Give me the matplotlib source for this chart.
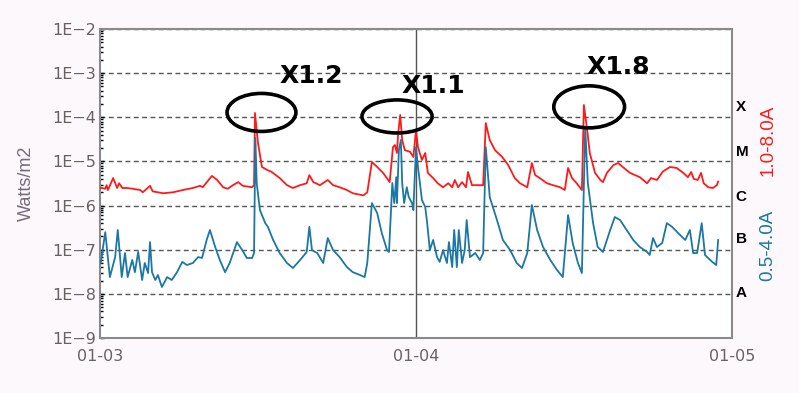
import matplotlib
matplotlib.use("Agg")
import matplotlib.pyplot as plt
import matplotlib.dates as mdates
import matplotlib.ticker as mticker
import matplotlib.transforms as mtransforms
from matplotlib.patches import Ellipse
import numpy as np
import pandas as pd

# GOES X-ray flux, hours after 01-03 00:00 and W/m2
long_hours = [0.0, 0.15, 0.4, 0.5, 0.6, 1.0, 1.3, 1.45, 1.7, 2.05, 2.5, 3.05, 3.25,
              3.8, 4.0, 4.8, 5.55, 6.3, 7.05, 7.6, 7.8, 8.5, 8.9, 9.35, 9.7, 10.1,
              10.5, 10.85, 11.55, 11.7, 11.77, 12.0, 12.3, 12.7, 13.05, 13.65, 14.2,
              14.65, 15.2, 15.7, 15.9, 16.2, 16.7, 17.3, 17.7, 18.2, 18.75, 19.2,
              20.0, 20.3, 20.65, 21.05, 21.5, 22.0, 22.25, 22.4, 22.55, 22.65, 22.8,
              22.95, 23.15, 23.55, 23.8, 24.0, 24.15, 24.45, 24.7, 24.9, 25.3, 25.65,
              26.05, 26.45, 26.75, 26.95, 27.2, 27.5, 27.8, 27.95, 28.25, 28.65,
              29.1, 29.3, 29.6, 30.0, 30.55, 31.0, 31.5, 31.9, 32.45, 32.8, 33.05,
              33.4, 33.95, 34.4, 34.95, 35.3, 35.55, 35.85, 36.2, 36.6, 36.75, 37.0,
              37.2, 37.6, 38.0, 38.2, 38.5, 39.0, 39.35, 39.7, 40.25, 41.0, 41.55,
              41.85, 42.3, 42.75, 43.3, 43.8, 44.3, 44.65, 44.9, 45.1, 45.4, 45.65,
              45.85, 46.2, 46.55, 46.85, 46.95]
long_flux = [2.5e-6, 2.5e-6, 2.4e-6, 2.9e-6, 2.25e-6, 4.2e-6, 2.5e-6, 3.2e-6, 2.5e-6,
             2.5e-6, 2.4e-6, 2.25e-6, 2.0e-6, 2.8e-6, 2.1e-6, 1.9e-6, 2.0e-6, 2.25e-6,
             2.5e-6, 2.8e-6, 2.6e-6, 4.7e-6, 3.8e-6, 2.6e-6, 2.4e-6, 2.9e-6, 3.4e-6,
             2.8e-6, 2.6e-6, 2.9e-6, 1.25e-4, 2.6e-5, 7.5e-6, 6.4e-6, 5.75e-6, 4.2e-6,
             2.9e-6, 2.5e-6, 2.9e-6, 3.2e-6, 4.9e-6, 3.4e-6, 2.9e-6, 3.8e-6, 2.9e-6,
             2.6e-6, 2.25e-6, 1.9e-6, 1.7e-6, 2.0e-6, 9.7e-6, 7.5e-6, 5.5e-6, 3.4e-6,
             2.1e-5, 2.35e-5, 1.55e-5, 4.4e-5, 1.13e-4, 3.06e-5, 1.8e-5, 1.65e-5,
             1.26e-5, 5.15e-5, 2.1e-5, 1.08e-5, 1.55e-5, 5.5e-6, 4.2e-6, 3.2e-6,
             2.6e-6, 3.2e-6, 2.6e-6, 3.8e-6, 2.6e-6, 3.4e-6, 2.6e-6, 5.75e-6, 2.9e-6,
             2.9e-6, 2.9e-6, 7.4e-5, 3.06e-5, 1.8e-5, 1.26e-5, 8.3e-6, 4.2e-6, 3.2e-6,
             2.6e-6, 9.2e-6, 4.9e-6, 4.2e-6, 3.2e-6, 2.9e-6, 2.6e-6, 2.25e-6, 7.1e-6,
             4.2e-6, 3.2e-6, 2.25e-6, 1.9e-4, 5.15e-5, 1.55e-5, 5.5e-6, 3.8e-6, 3.4e-6,
             5.5e-6, 8.3e-6, 9.2e-6, 7.5e-6, 5.5e-6, 4.4e-6, 3.2e-6, 4.2e-6, 3.8e-6,
             5.9e-6, 7.5e-6, 7.1e-6, 5.5e-6, 4.4e-6, 5.75e-6, 4.0e-6, 3.8e-6, 5.5e-6,
             3.2e-6, 2.6e-6, 2.5e-6, 2.9e-6, 3.5e-6]

short_hours = [0.05, 0.4, 0.75, 1.15, 1.35, 1.65, 1.9, 2.1, 2.45, 2.65, 2.9, 3.2, 3.4,
               3.65, 3.8, 3.95, 4.2, 4.4, 4.7, 5.1, 5.45, 5.85, 6.25, 6.6, 7.05, 7.45,
               7.75, 8.1, 8.35, 8.75, 9.1, 9.5, 9.85, 10.4, 10.8, 11.15, 11.55, 11.7,
               11.8, 11.9, 12.15, 12.55, 12.75, 13.15, 13.65, 14.2, 14.65, 15.2, 15.7,
               15.9, 16.1, 16.5, 16.95, 17.3, 17.7, 18.2, 18.75, 19.2, 19.75, 20.1,
               20.3, 20.65, 21.05, 21.4, 21.8, 21.95, 22.2, 22.35, 22.5, 22.55, 22.7,
               22.85, 22.95, 23.1, 23.3, 23.45, 23.7, 23.8, 24.0, 24.15, 24.45, 24.7,
               24.85, 25.05, 25.3, 25.6, 25.8, 26.05, 26.35, 26.5, 26.75, 26.9, 27.1,
               27.25, 27.5, 27.7, 27.85, 28.1, 28.5, 28.85, 29.1, 29.3, 29.6, 30.15,
               30.6, 31.15, 31.65, 32.05, 32.45, 32.8, 33.2, 33.65, 34.2, 34.7, 35.15,
               35.55, 35.9, 36.3, 36.6, 36.85, 37.05, 37.45, 37.8, 38.2, 38.75, 39.1,
               39.5, 40.0, 40.5, 41.0, 41.55, 41.75, 42.0, 42.3, 42.7, 43.05, 43.45,
               43.9, 44.45, 44.8, 45.05, 45.35, 45.7, 45.95, 46.5, 46.8, 46.95]
short_flux = [5.0e-8, 2.5e-7, 2.4e-8, 6.8e-8, 2.8e-7, 2.4e-8, 8.4e-8, 2.4e-8, 5.85e-8,
              3.1e-8, 8.9e-8, 2.06e-8, 5.0e-8, 2.96e-8, 1.49e-7, 3.1e-8, 2.06e-8,
              2.67e-8, 1.43e-8, 2.4e-8, 2.06e-8, 3.1e-8, 5.3e-8, 4.5e-8, 5.0e-8, 6.8e-8,
              6.5e-8, 1.66e-7, 2.8e-7, 1.15e-7, 5.85e-8, 3.1e-8, 5.0e-8, 1.49e-7, 9.8e-8,
              6.5e-8, 6.5e-8, 8.4e-8, 3.4e-5, 3.24e-6, 7.9e-7, 4.0e-7, 3.3e-7, 1.66e-7,
              8.4e-8, 5.0e-8, 3.85e-8, 5.85e-8, 8.9e-8, 3.3e-7, 9.8e-8, 8.4e-8, 5.0e-8,
              1.84e-7, 9.8e-8, 6.8e-8, 4.05e-8, 3.1e-8, 2.67e-8, 2.4e-8, 5.0e-8, 1.14e-6,
              6.8e-7, 2.4e-7, 9.8e-8, 8.9e-8, 3.24e-6, 1.14e-6, 4.4e-6, 1.14e-6, 1.8e-5,
              3.06e-5, 3.24e-6, 1.14e-6, 2.6e-6, 1.56e-6, 1.14e-6, 7.9e-7, 2.1e-5,
              7.5e-6, 1.34e-6, 9.3e-7, 4.0e-7, 9.8e-8, 1.66e-7, 6.8e-8, 5.3e-8, 9.8e-8,
              5.0e-8, 1.49e-7, 4.05e-8, 2.8e-7, 4.05e-8, 2.8e-7, 5.0e-8, 9.8e-8, 4.7e-7,
              6.8e-8, 8.4e-8, 5.85e-8, 8.4e-8, 2.1e-5, 1.56e-6, 4.7e-7, 1.66e-7, 9.8e-8,
              5.0e-8, 3.85e-8, 8.4e-8, 1.03e-6, 2.8e-7, 1.15e-7, 5.85e-8, 3.5e-8, 2.4e-8,
              6.1e-7, 1.42e-7, 5.0e-8, 2.96e-8, 6.0e-5, 3.24e-6, 4.0e-7, 1.15e-7, 8.9e-8,
              2.8e-7, 5.5e-7, 4.7e-7, 2.8e-7, 1.66e-7, 1.15e-7, 8.9e-8, 7.6e-8, 1.84e-7,
              1.15e-7, 1.42e-7, 4.0e-7, 3.3e-7, 2.4e-7, 1.66e-7, 2.8e-7, 8.4e-8, 8.4e-8,
              4.0e-7, 7.6e-8, 5.3e-8, 4.5e-8, 1.66e-7]

# flare classes (letter, level in W/m2 where the letter sits)
class_letters = ['X', 'M', 'C', 'B', 'A']
class_levels = [1.7e-4, 1.6e-5, 1.6e-6, 1.75e-7, 1.05e-8]

# flare annotations: label, ellipse centre / size and label centre in axes fraction
flare_labels = ['X1.2', 'X1.1', 'X1.8']
ellipse_xy = [(0.2555, 0.730), (0.470, 0.717), (0.774, 0.748)]
ellipse_wh = [(0.109, 0.123), (0.111, 0.107), (0.112, 0.136)]
label_xy = [(0.334, 0.848), (0.527, 0.816), (0.820, 0.877)]

t0 = pd.Timestamp('2025-01-03')
long_t = t0 + pd.to_timedelta(long_hours, unit='h')
short_t = t0 + pd.to_timedelta(short_hours, unit='h')

red = '#ff1a1a'
blue = '#1b77a3'
tick_col = '#6a6062'

fig = plt.figure(figsize=(7.99, 3.93), dpi=100, facecolor='#fdf8fc')
ax = fig.add_axes([100 / 799, 55 / 393, 632 / 799, 309 / 393])
ax.set_facecolor('white')

ax.plot(long_t, long_flux, color=red, lw=1.3, zorder=3)
ax.plot(short_t, short_flux, color=blue, lw=1.3, zorder=3)

ax.set_yscale('log')
ax.set_ylim(1e-9, 1e-2)
ax.set_xlim(t0, t0 + pd.Timedelta(days=2))

ax.yaxis.set_major_locator(mticker.LogLocator(base=10, numticks=10))
ax.yaxis.set_minor_locator(mticker.LogLocator(base=10, subs=np.arange(2, 10), numticks=20))
ax.yaxis.set_minor_formatter(mticker.NullFormatter())
ax.yaxis.set_major_formatter(mticker.FuncFormatter(
    lambda v, p: '1E\u2212%d' % round(-np.log10(v))))
ax.xaxis.set_major_locator(mdates.DayLocator())
ax.xaxis.set_major_formatter(mdates.DateFormatter('%m-%d'))

ax.tick_params(axis='y', which='major', direction='in', length=3, width=1,
               color='black', labelsize=11.5, labelcolor=tick_col, pad=3)
ax.tick_params(axis='y', which='minor', direction='in', length=2, width=1,
               color='black')
ax.tick_params(axis='x', length=0, labelsize=11.5, labelcolor=tick_col, pad=8)

ax.yaxis.grid(True, which='major', linestyle=(0, (3.5, 2.5)), color='#555555', lw=1)
ax.axvline(t0 + pd.Timedelta(days=1), color='#555555', lw=1, zorder=2)

for s in ax.spines.values():
    s.set_color('#8a8a8a')
    s.set_linewidth(1.5)

ax.set_ylabel('Watts/m2', fontsize=13, color='#776a7a', family='Liberation Sans',
              labelpad=12)

trans = mtransforms.blended_transform_factory(ax.transAxes, ax.transData)
for letter, lev in zip(class_letters, class_levels):
    ax.text(1.006, lev, letter, transform=trans, ha='left', va='center',
            fontsize=11, fontweight='bold', family='Liberation Sans', color='black')

fig.text(768 / 799, 1 - 140 / 393, '1.0-8.0A', rotation=90, ha='center', va='center',
         fontsize=13.5, color=red, family='Liberation Sans')
fig.text(768 / 799, 1 - 245 / 393, '0.5-4.0A', rotation=90, ha='center', va='center',
         fontsize=13.5, color=blue, family='Liberation Sans')

for lab, c, wh, lxy in zip(flare_labels, ellipse_xy, ellipse_wh, label_xy):
    ax.add_patch(Ellipse(c, wh[0], wh[1], transform=ax.transAxes, fill=False,
                         edgecolor='black', lw=2.6, zorder=5))
    ax.text(lxy[0], lxy[1], lab, transform=ax.transAxes, ha='center', va='center',
            fontsize=18, fontweight='bold', color='black', zorder=6)

fig.savefig('out.png', dpi=100, facecolor=fig.get_facecolor())
